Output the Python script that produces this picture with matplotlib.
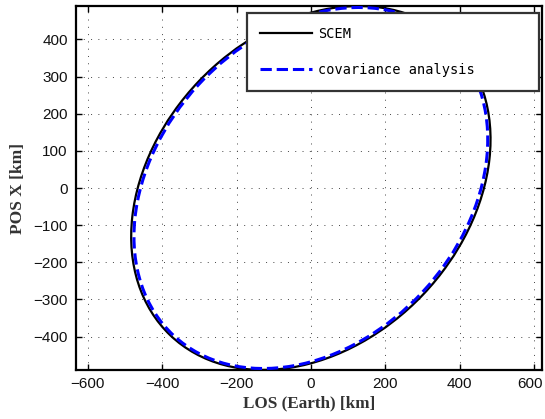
import matplotlib
matplotlib.use("Agg")
import matplotlib.pyplot as plt
import matplotlib.transforms as mtransforms
from matplotlib.patches import Ellipse
from matplotlib.lines import Line2D

# Error ellipse parameters (km)
series_names = ["SCEM", "covariance analysis"]
ellipse_center_x = [0.0, 0.0]
ellipse_center_y = [0.0, 0.0]
ellipse_width = [1096.0, 1084.5]
ellipse_height = [833.0, 821.6]
ellipse_angle = [46.4, 47.2]

x_ticks = [-600, -400, -200, 0, 200, 400, 600]
y_ticks = [-400, -300, -200, -100, 0, 100, 200, 300, 400]
x_label = "LOS (Earth) [km]"
y_label = "POS X [km]"

fig = plt.figure(figsize=(5.45, 4.19), dpi=100)
ax = fig.add_axes([76/545, 1-370/419, (542-76)/545, (370-6)/419])

colors = ["black", "blue"]
styles = ["-", "--"]
widths = [1.6, 2.2]
for i in range(2):
    e = Ellipse((ellipse_center_x[i], ellipse_center_y[i]), ellipse_width[i], ellipse_height[i],
                angle=ellipse_angle[i], fill=False, edgecolor=colors[i], linestyle=styles[i],
                linewidth=widths[i], zorder=3 + i)
    ax.add_patch(e)

ax.set_xlim(-632, 622)
ax.set_ylim(-490, 490)
ax.set_xticks(x_ticks)
ax.set_yticks(y_ticks)
ax.grid(True, color="#444444", linestyle=(0, (1, 6.5)), linewidth=0.7)
ax.tick_params(direction="in", length=4, width=1, top=True, right=True,
               labelsize=11, colors="black")
ax.tick_params(axis="x", pad=5)
ax.tick_params(axis="y", pad=6)
for lab in ax.get_xticklabels() + ax.get_yticklabels():
    lab.set_family("Liberation Sans")
    lab.set_color("#111111")
# keep the last x tick label inside the figure, as in the reference
last = ax.get_xticklabels()[-1]
last.set_transform(last.get_transform() +
                   mtransforms.ScaledTranslation(-4/100, 0, fig.dpi_scale_trans))
for s in ax.spines.values():
    s.set_linewidth(1.6)

ax.set_xlabel(x_label, family="Liberation Serif", fontweight="bold", fontsize=12.3,
              color="#333333", labelpad=3)
ax.set_ylabel(y_label, family="Liberation Serif", fontweight="bold", fontsize=12.5,
              color="#333333", labelpad=5)

handles = [Line2D([], [], color=colors[i], linestyle=styles[i], linewidth=widths[i])
           for i in range(2)]
leg = ax.legend(handles, series_names, loc="upper left",
                bbox_to_anchor=(0.366, 0.778, 0.627, 0.203), mode="expand",
                prop={"family": "DejaVu Sans Mono", "size": 9.8},
                handlelength=3.8, handletextpad=0.45, labelspacing=1.65,
                borderpad=1.0, borderaxespad=0, fancybox=False, framealpha=1)
leg.get_frame().set_edgecolor("#333333")
leg.get_frame().set_linewidth(1.6)
leg.set_zorder(10)

fig.savefig("out.png", dpi=100)
